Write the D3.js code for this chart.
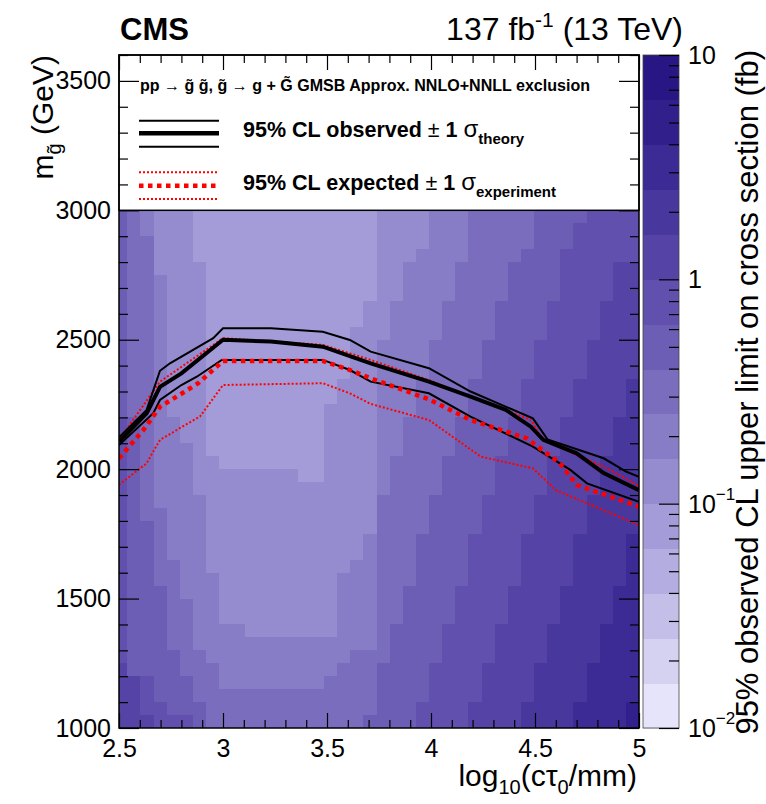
<!DOCTYPE html>
<html>
<head>
<meta charset="utf-8">
<script src="https://cdn.jsdelivr.net/npm/d3@7"></script>
<style>
body { margin: 0; background: #fff; }
text { font-family: "Liberation Sans", Arial, Helvetica, sans-serif; }
</style>
</head>
<body>
<svg id="chart" width="766" height="804"></svg>
<script>
// histogram binning (x = log10(ctau/mm), y = gluino mass in GeV)
var ctauBinLo = 2.4771, ctauBinHi = 5, massBinLo = 1000, massBinHi = 3000, nBins = 40;

// limit band of each cell, 0 = 0.01-0.016 fb ... e = 6.3-10 fb (0.2 decade steps)
// first string = top row (2950-3000 GeV), first char = first ctau bin
var limitBands = [
  "8765554444444444444455556667777788889999",
  "8765554444444444444455556667777788899999",
  "8775554444444444444455556667777788899999",
  "8775554444444444444455566667777888999999",
  "87755554444444444444556666777788889999aa",
  "87765554444444444444556666777788889999aa",
  "87765554444444444444556666777788889999aa",
  "8776555444444444444556666777788889999aaa",
  "8776555444444444444556666777788889999aaa",
  "8776555444444444445556666777788889999aaa",
  "877655544444444444556666777788889999aaaa",
  "877655544444444444556666777788889999aaaa",
  "877655544444444444556666777788889999aaaa",
  "87765554444444444555666777788889999aaaab",
  "87765554444444444555666777788889999aaaab",
  "87765554444444445555666777788889999aaaab",
  "9876655444444444555566777788889999aaaabb",
  "9876655444444444555566777788889999aaaabb",
  "9876665444444444555566777788889999aaaabb",
  "987666554444444455556777788889999aaaabbb",
  "987666555555554455556777788889999aaaabbb",
  "987666555555555555556777788889999aaaabbb",
  "98766665555555555555777788889999aaaabbbb",
  "98776665555555555555777788889999aaaabbbb",
  "98876665555555555555777788889999aaaabbbb",
  "9887666555555555555677788889999aaaabbbbc",
  "9887666555555555555677788889999aaaabbbbc",
  "9887766555555555556677788889999aaaabbbbc",
  "9887766655555555566677788889999aaaabbbbc",
  "988876665555555556667788889999aaaabbbbcc",
  "988877665555555556667788889999aaaabbbbcc",
  "988877665555555556667788889999aaaabbbbcc",
  "98887766665555555666788889999aaaabbbbccc",
  "98887766666666666666788889999aaaabbbbccc",
  "98888776666666666677788889999aaaabbbbccc",
  "a888877766666666677788889999aaaabbbbcccc",
  "aa98887766666666777788889999aaaabbbbcccc",
  "aa98887777777777777788889999aaaabbbbcccc",
  "aa9988877777777777778889999aaaabbbbccccd",
  "aaa999877777777777788889999aaaabbbbccccd"
];

// exclusion contours
var obsCtau = [2.5, 2.633, 2.697, 2.80, 3.0, 3.23, 3.48, 3.71, 3.99, 4.19, 4.36, 4.48, 4.54, 4.70, 4.83, 5.0];
var obsMass = [2106, 2216, 2318, 2370, 2500, 2493, 2473, 2409, 2338, 2280, 2229, 2164, 2113, 2061, 1985, 1919];
var obsUpCtau = [2.5, 2.633, 2.697, 2.745, 2.953, 3.0, 3.23, 3.48, 3.61, 3.71, 3.99, 4.19, 4.49, 4.56, 4.83, 4.94, 5.0];
var obsUpMass = [2123, 2229, 2380, 2409, 2506, 2544, 2544, 2531, 2499, 2454, 2390, 2300, 2196, 2115, 2042, 1990, 1970];
var obsDownCtau = [2.5, 2.665, 2.697, 2.80, 2.874, 2.994, 3.48, 3.61, 3.71, 3.99, 4.19, 4.49, 4.67, 4.75, 5.0];
var obsDownMass = [2093, 2216, 2267, 2325, 2357, 2422, 2422, 2383, 2338, 2293, 2203, 2087, 1997, 1945, 1874];
var expCtau = [2.5, 2.617, 2.697, 2.777, 2.881, 3.0, 3.48, 3.61, 3.71, 3.99, 4.19, 4.46, 4.62, 4.70, 5.0];
var expMass = [2042, 2151, 2241, 2280, 2332, 2418, 2418, 2383, 2351, 2270, 2190, 2119, 2023, 1939, 1855];
var expUpCtau = [2.5, 2.697, 3.0, 3.48, 3.71, 3.99, 4.19, 4.48, 4.54, 4.83, 5.0];
var expUpMass = [2112, 2338, 2506, 2480, 2422, 2344, 2280, 2190, 2113, 2009, 1935];
var expDownCtau = [2.5, 2.633, 2.697, 2.777, 2.889, 3.0, 3.48, 3.61, 3.71, 3.99, 4.24, 4.49, 4.60, 4.75, 5.0];
var expDownMass = [1939, 2023, 2113, 2151, 2203, 2325, 2332, 2293, 2252, 2190, 2048, 2003, 1919, 1868, 1784];

var xMajor = [2.5, 3, 3.5, 4, 4.5, 5];
var yMajor = [1000, 1500, 2000, 2500, 3000, 3500];

var palette = ["#e6e4fa", "#d4d1f1", "#c3bfe9", "#b3ade1", "#a49cd8", "#958bcf", "#877cc6", "#7a6dbe",
               "#6d5eb5", "#6150ad", "#5543a5", "#48379d", "#3c2b94", "#31208b", "#271684"];

var pL = 119, pR = 639, pT = 55, pB = 728;
var svg = d3.select("#chart");

var x = d3.scaleLinear().domain([2.5, 5]).range([pL, pR]);
var y = d3.scaleLinear().domain([1000, 3600]).range([pB, pT]);
var zY = d3.scaleLog().domain([0.01, 10]).range([pB, pT]);

var levels = d3.range(16).map(function(k) { return Math.pow(10, -2 + 0.2 * k); });
var color = d3.scaleThreshold().domain(levels.slice(1, 15)).range(palette);

svg.append("clipPath").attr("id", "plotclip")
   .append("rect").attr("x", pL).attr("y", pT).attr("width", pR - pL).attr("height", pB - pT);

// cells
var binW = (ctauBinHi - ctauBinLo) / nBins, binH = (massBinHi - massBinLo) / nBins;
var cells = [];
limitBands.forEach(function(row, r) {
  row.split("").forEach(function(ch, c) {
    var band = parseInt(ch, 16);
    cells.push({
      x0: ctauBinLo + c * binW, x1: ctauBinLo + (c + 1) * binW,
      y0: massBinHi - (r + 1) * binH, y1: massBinHi - r * binH,
      value: Math.pow(10, -2 + 0.2 * band + 0.1)
    });
  });
});

svg.append("g").attr("clip-path", "url(#plotclip)")
   .selectAll("rect").data(cells).enter().append("rect")
   .attr("x", function(d) { return x(d.x0); })
   .attr("y", function(d) { return y(d.y1); })
   .attr("width", function(d) { return x(d.x1) - x(d.x0) + 0.5; })
   .attr("height", function(d) { return y(d.y0) - y(d.y1) + 0.5; })
   .attr("fill", function(d) { return color(d.value); })
   .attr("shape-rendering", "crispEdges");

// contours
var line = d3.line().x(function(d) { return x(d[0]); }).y(function(d) { return y(d[1]); });
var curves = [
  { c: expDownCtau, m: expDownMass, stroke: "#ff0000", w: 2, dash: "2,2" },
  { c: expUpCtau, m: expUpMass, stroke: "#ff0000", w: 2, dash: "2,2" },
  { c: obsUpCtau, m: obsUpMass, stroke: "#000", w: 2, dash: null },
  { c: obsDownCtau, m: obsDownMass, stroke: "#000", w: 2, dash: null },
  { c: obsCtau, m: obsMass, stroke: "#000", w: 4, dash: null },
  { c: expCtau, m: expMass, stroke: "#ff0000", w: 4.5, dash: "4.5,4.5" }
];
svg.append("g").attr("clip-path", "url(#plotclip)")
   .selectAll("path").data(curves).enter().append("path")
   .attr("d", function(d) { return line(d3.zip(d.c, d.m)); })
   .attr("fill", "none")
   .attr("stroke", function(d) { return d.stroke; })
   .attr("stroke-width", function(d) { return d.w; })
   .attr("stroke-dasharray", function(d) { return d.dash; });

// legend box
var leg = svg.append("g");
leg.append("rect").attr("x", pL).attr("y", pT).attr("width", pR - pL).attr("height", y(3000) - pT)
   .attr("fill", "#fff").attr("stroke", "#000").attr("stroke-width", 1.5);

leg.append("text").attr("x", 140).attr("y", 91).attr("font-size", 16).attr("font-weight", "bold")
   .attr("textLength", 450).attr("lengthAdjust", "spacingAndGlyphs")
   .text("pp \u2192 g\u0303 g\u0303, g\u0303 \u2192 g + G\u0303  GMSB Approx. NNLO+NNLL exclusion");

[[120.7, 2, null, "#000"], [133.3, 4.5, null, "#000"], [146.7, 2, null, "#000"],
 [172.3, 2, "2,2", "#ff0000"], [185.7, 4.5, "4.5,4.5", "#ff0000"], [199, 2, "2,2", "#ff0000"]]
  .forEach(function(s) {
    leg.append("line").attr("x1", 139).attr("x2", 219).attr("y1", s[0]).attr("y2", s[0])
       .attr("stroke", s[3]).attr("stroke-width", s[1]).attr("stroke-dasharray", s[2]);
  });

function legendText(yPos, label, sub) {
  var t = leg.append("text").attr("x", 243).attr("y", yPos).attr("font-size", 21.5).attr("font-weight", "bold");
  t.append("tspan").text(label + " ");
  t.append("tspan").attr("font-weight", "normal").text("\u00b1 ");
  t.append("tspan").text("1 ");
  t.append("tspan").attr("font-weight", "normal").attr("font-size", 24).text("\u03c3");
  t.append("tspan").attr("font-size", 15).attr("dy", 7).text(sub);
}
legendText(137, "95% CL observed", "theory");
legendText(190, "95% CL expected", "experiment");

// axes (ticks point inwards, mirrored on top and right)
function tickStyle(g) {
  g.select(".domain").remove();
  g.selectAll(".tick line").attr("stroke", "#000").attr("stroke-width", 1.2);
}
var xMinor = d3.range(25, 51).map(function(v) { return v / 10; }).filter(function(v) { return xMajor.indexOf(v) < 0; });
var yMinor = d3.range(10, 37).map(function(v) { return v * 100; }).filter(function(v) { return yMajor.indexOf(v) < 0; });

svg.append("g").attr("transform", "translate(0," + pB + ")")
   .call(d3.axisBottom(x).tickValues(xMajor).tickSize(-15).tickPadding(11).tickFormat(function(d) { return String(d); }))
   .call(tickStyle)
   .selectAll("text").attr("font-size", 25).attr("fill", "#000").attr("font-family", null);
svg.append("g").attr("transform", "translate(0," + pB + ")")
   .call(d3.axisBottom(x).tickValues(xMinor).tickSize(-8).tickFormat("")).call(tickStyle);
svg.append("g").attr("transform", "translate(0," + pT + ")")
   .call(d3.axisTop(x).tickValues(xMajor).tickSize(-15).tickFormat("")).call(tickStyle);
svg.append("g").attr("transform", "translate(0," + pT + ")")
   .call(d3.axisTop(x).tickValues(xMinor).tickSize(-8).tickFormat("")).call(tickStyle);

svg.append("g").attr("transform", "translate(" + pL + ",0)")
   .call(d3.axisLeft(y).tickValues(yMajor).tickSize(-20).tickPadding(8).tickFormat(function(d) { return String(d); }))
   .call(tickStyle)
   .selectAll("text").attr("font-size", 25).attr("fill", "#000").attr("font-family", null);
svg.append("g").attr("transform", "translate(" + pL + ",0)")
   .call(d3.axisLeft(y).tickValues(yMinor).tickSize(-9).tickFormat("")).call(tickStyle);
svg.append("g").attr("transform", "translate(" + pR + ",0)")
   .call(d3.axisRight(y).tickValues(yMajor).tickSize(-20).tickFormat("")).call(tickStyle);
svg.append("g").attr("transform", "translate(" + pR + ",0)")
   .call(d3.axisRight(y).tickValues(yMinor).tickSize(-9).tickFormat("")).call(tickStyle);

svg.append("rect").attr("x", pL).attr("y", pT).attr("width", pR - pL).attr("height", pB - pT)
   .attr("fill", "none").attr("stroke", "#000").attr("stroke-width", 1.5);

// colour bar
var zx0 = 643, zx1 = 679;
svg.append("g").selectAll("rect").data(palette).enter().append("rect")
   .attr("x", zx0).attr("width", zx1 - zx0)
   .attr("y", function(d, k) { return zY(levels[k + 1]); })
   .attr("height", function(d, k) { return zY(levels[k]) - zY(levels[k + 1]) + 0.5; })
   .attr("fill", function(d) { return d; })
   .attr("shape-rendering", "crispEdges");
svg.append("rect").attr("x", zx0).attr("y", pT).attr("width", zx1 - zx0).attr("height", pB - pT)
   .attr("fill", "none").attr("stroke", "#444").attr("stroke-width", 0.8);

var zMajor = [0.01, 0.1, 1, 10];
var zMinor = [];
[0.01, 0.1, 1].forEach(function(dec) { d3.range(2, 10).forEach(function(m) { zMinor.push(dec * m); }); });
svg.append("g").attr("transform", "translate(" + zx1 + ",0)")
   .call(d3.axisRight(zY).tickValues(zMajor).tickSize(-20).tickFormat("")).call(tickStyle);
svg.append("g").attr("transform", "translate(" + zx1 + ",0)")
   .call(d3.axisRight(zY).tickValues(zMinor).tickSize(-10).tickFormat("")).call(tickStyle);

var zLabels = [[10, "10", null], [1, "1", null], [0.1, "10", "\u22121"], [0.01, "10", "\u22122"]];
zLabels.forEach(function(l) {
  var t = svg.append("text").attr("x", 688).attr("y", zY(l[0])).attr("dy", "0.36em").attr("font-size", 25).text(l[1]);
  if (l[2]) t.append("tspan").attr("font-size", 17).attr("dy", "-0.75em").text(l[2]);
});

// titles
svg.append("text").attr("x", 120).attr("y", 40).attr("font-size", 31).attr("font-weight", "bold").text("CMS");
var lumi = svg.append("text").attr("x", 683).attr("y", 40).attr("font-size", 32).attr("text-anchor", "end");
lumi.append("tspan").text("137 fb");
lumi.append("tspan").attr("font-size", 21).attr("dy", -13).text("-1");
lumi.append("tspan").attr("dy", 13).text(" (13 TeV)");

var xt = svg.append("text").attr("x", 637).attr("y", 786).attr("font-size", 30).attr("text-anchor", "end");
xt.append("tspan").text("log");
xt.append("tspan").attr("font-size", 20).attr("dy", 8).text("10");
xt.append("tspan").attr("dy", -8).text("(c\u03c4");
xt.append("tspan").attr("font-size", 20).attr("dy", 8).text("0");
xt.append("tspan").attr("dy", -8).text("/mm)");

var yt = svg.append("text").attr("transform", "translate(53," + pT + ") rotate(-90)")
   .attr("font-size", 30).attr("text-anchor", "end");
yt.append("tspan").text("m");
yt.append("tspan").attr("font-size", 20).attr("dy", 8).text("g\u0303");
yt.append("tspan").attr("dy", -8).text(" (GeV)");

svg.append("text").attr("transform", "translate(758,50) rotate(-90)")
   .attr("font-size", 31).attr("text-anchor", "end")
   .text("95% observed CL upper limit on cross section (fb)");
</script>
</body>
</html>
